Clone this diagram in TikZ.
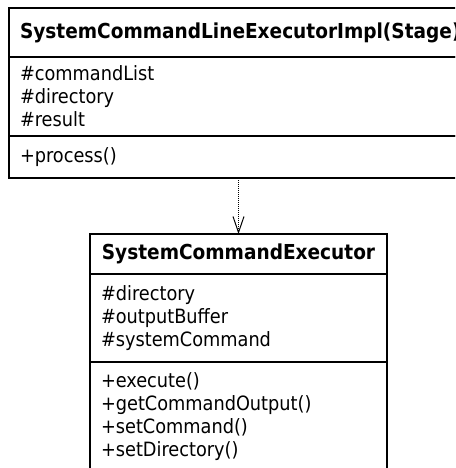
\documentclass[tikz,border=0pt]{standalone}
\usepackage{fontspec}
\setmainfont{DejaVu Sans Condensed}
\usetikzlibrary{positioning,arrows.meta}

\begin{document}
\begin{tikzpicture}[x=1pt,y=-1pt,node distance=0pt,
    title node/.style={draw,line width=1.3pt,outer sep=0pt,inner xsep=11pt,inner ysep=0pt,font=\bfseries\fontsize{20.6}{23}\selectfont},
    member node/.style={draw,line width=1.3pt,outer sep=0pt,inner xsep=11pt,inner ysep=0pt,align=left,font=\fontsize{19.7}{23}\selectfont}]
                \useasboundingbox (0,0) rectangle (455,468);
                \clip (0,0) rectangle (455,468);

                \node[title node,text width=440pt,align=left,minimum height=49pt,anchor=north west] (1) at (9,8) {SystemCommandLineExecutorImpl(Stage)};
                \node[member node,text width=440pt,minimum height=79pt] (2) [below=of 1] {\#commandList\\\#directory\\\#result};
                \node[member node,text width=440pt,minimum height=42pt] (3) [below=of 2] {+process()};

                \node[title node,minimum width=297pt,minimum height=40pt,anchor=north west] (4) at (90,234) {SystemCommandExecutor};
                \node[member node,text width=275pt,minimum height=88pt] (5) [below=of 4] {\#directory\\\#outputBuffer\\\#systemCommand};
                \node[member node,text width=275pt,minimum height=110pt] (6) [below=of 5] {+execute()\\+getCommandOutput()\\+setCommand()\\+setDirectory()};

                \draw[line width=1pt,dash pattern=on 1pt off 1pt,-{Straight Barb[length=16pt,width=11pt,line width=1pt]}]
                    (3.south -| 4.north) -- (4.north);

            \end{tikzpicture}
\end{document}
